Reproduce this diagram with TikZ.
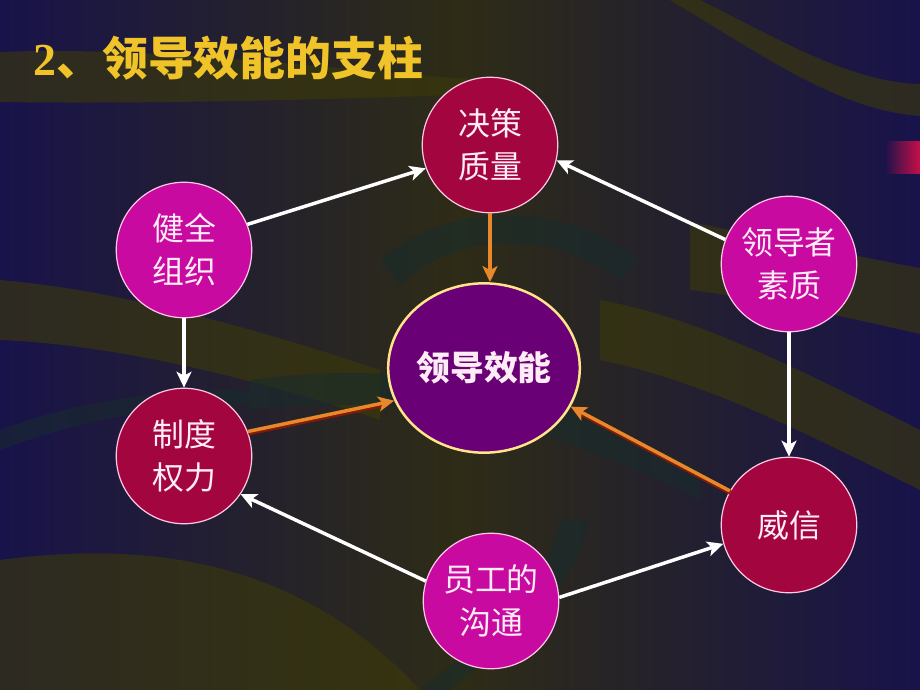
\documentclass[tikz,border=0pt]{standalone}
\usepackage{fontspec}
\newfontfamily\cjk{Noto Sans CJK SC}
\newfontfamily\chiffre{Liberation Serif}
\usetikzlibrary{shapes}
\usetikzlibrary{arrows.meta}
\usetikzlibrary{positioning}
\usetikzlibrary{calc}
\definecolor{fondbleu}{RGB}{24,19,74}
\definecolor{fondolive}{RGB}{46,44,22}
\definecolor{olive}{RGB}{60,58,8}
\definecolor{sarcelle}{RGB}{24,44,44}
\definecolor{bordeaux}{RGB}{163,6,62}
\definecolor{rose}{RGB}{200,10,160}
\definecolor{violet}{RGB}{106,0,118}
\definecolor{bordrose}{RGB}{255,200,230}
\definecolor{jaune}{RGB}{255,228,140}
\definecolor{texte}{RGB}{255,236,246}
\definecolor{titre}{RGB}{240,196,40}
\definecolor{orange}{RGB}{232,136,42}
\definecolor{ombre}{RGB}{130,28,8}
\definecolor{rougevif}{RGB}{200,14,72}
\tikzstyle{pilier}=[
        circle,
        draw=bordrose,
        line width=1.2pt,
        minimum size=136pt,
        inner sep=0pt,
        align=center,
        text=texte,
        font=\cjk\fontsize{32}{43}\selectfont
]
\tikzstyle{pilrouge}=[pilier,fill=bordeaux]
\tikzstyle{pilrose}=[pilier,fill=rose]
\tikzstyle{centre}=[ellipse,draw=jaune,line width=2.5pt,fill=violet,minimum width=186pt,minimum height=170pt,inner sep=0pt,text=texte,font=\cjk\bfseries\fontsize{34}{40}\selectfont]
\tikzstyle{bande}=[fill=olive,opacity=0.6]
\tikzstyle{bandesombre}=[fill=sarcelle,opacity=0.55]
\tikzstyle{suite}=[-{Stealth[length=16pt,width=15pt,inset=4pt]},line width=3.5pt,white]
\tikzstyle{effet}=[-{Stealth[length=16pt,width=15pt,inset=4pt]},line width=3.5pt,orange]
\tikzstyle{effetombre}=[line width=5pt,ombre,shorten >=10pt,transform canvas={xshift=0.5pt,yshift=-1.5pt}]

\begin{document}
\begin{tikzpicture}[x=1bp,y=-1bp]
\useasboundingbox (0,0) rectangle (920,690);
%fond
\shade[left color=fondbleu,right color=fondbleu,middle color=fondolive] (0,0) rectangle (920,690);
\fill[bande] (0,52) .. controls (150,46) and (320,68) .. (480,80) -- (480,94) .. controls (320,100) and (150,104) .. (0,102) -- cycle;
\fill[bande] (700,0) .. controls (780,40) and (850,82) .. (920,84) -- (920,116) .. controls (840,110) and (770,60) .. (670,0) -- cycle;
\fill[bande] (690,222) .. controls (780,240) and (850,255) .. (920,268) -- (920,334) .. controls (850,318) and (770,300) .. (690,290) -- cycle;
\fill[bande] (600,300) .. controls (700,318) and (800,370) .. (920,430) -- (920,490) .. controls (800,430) and (700,380) .. (600,360) -- cycle;
\fill[bande] (0,280) .. controls (120,290) and (260,330) .. (380,370) -- (380,420) .. controls (260,380) and (120,345) .. (0,340) -- cycle;
\fill[bande] (0,560) .. controls (150,540) and (300,560) .. (420,690) -- (0,690) -- cycle;
\fill[bandesombre] (250,380) .. controls (400,360) and (520,380) .. (700,470) -- (700,500) .. controls (520,410) and (400,395) .. (250,410) -- cycle;
\fill[bandesombre] (380,260) .. controls (450,200) and (560,200) .. (640,260) -- (620,280) .. controls (550,230) and (460,230) .. (400,285) -- cycle;
\fill[bandesombre] (560,520) .. controls (540,600) and (470,650) .. (420,690) -- (450,690) .. controls (510,640) and (575,590) .. (590,520) -- cycle;
\fill[bandesombre] (0,430) .. controls (80,400) and (160,390) .. (250,390) -- (250,405) .. controls (160,405) and (80,420) .. (0,450) -- cycle;
\shade[left color=fondbleu,right color=rougevif] (884,142) rectangle (920,173);
%titre
\node[anchor=west,text=titre,font=\cjk\bfseries\fontsize{46}{50}\selectfont] (titre) at (30,58) {{\chiffre\bfseries 2}、领导效能的支柱};
%cercles
\node[pilrouge] (juece) at (490,145) {决策\\质量};
\node[pilrose] (zuzhi) at (184,250) {健全\\组织};
\node[pilrose] (suzhi) at (789,264) {领导者\\素质};
\node[centre] (xiaoneng) at (484,368) {领导效能};
\node[pilrouge] (zhidu) at (184,456) {制度\\权力};
\node[pilrouge] (weixin) at (789,525) {威信};
\node[pilrose] (goutong) at (491,601) {员工的\\沟通};
%Placement des flèches
\draw[suite] (zuzhi.22) -- (juece.200);
\draw[suite] (suzhi.159) -- (juece.347);
\draw[suite] (zuzhi.south) -- (zhidu.north);
\draw[suite] (suzhi.south) -- (weixin.north);
\draw[suite] (goutong.163) -- (zhidu.326);
\draw[suite] (goutong.3) -- (weixin.196);
\draw[effetombre] (zhidu.21) -- (xiaoneng.200);
\draw[effetombre] (weixin.150) -- (xiaoneng.336);
\draw[effet] (juece.south) -- (juece.south |- xiaoneng.north);
\draw[effet] (zhidu.21) -- (xiaoneng.200);
\draw[effet] (weixin.150) -- (xiaoneng.336);
\end{tikzpicture}
\end{document}
